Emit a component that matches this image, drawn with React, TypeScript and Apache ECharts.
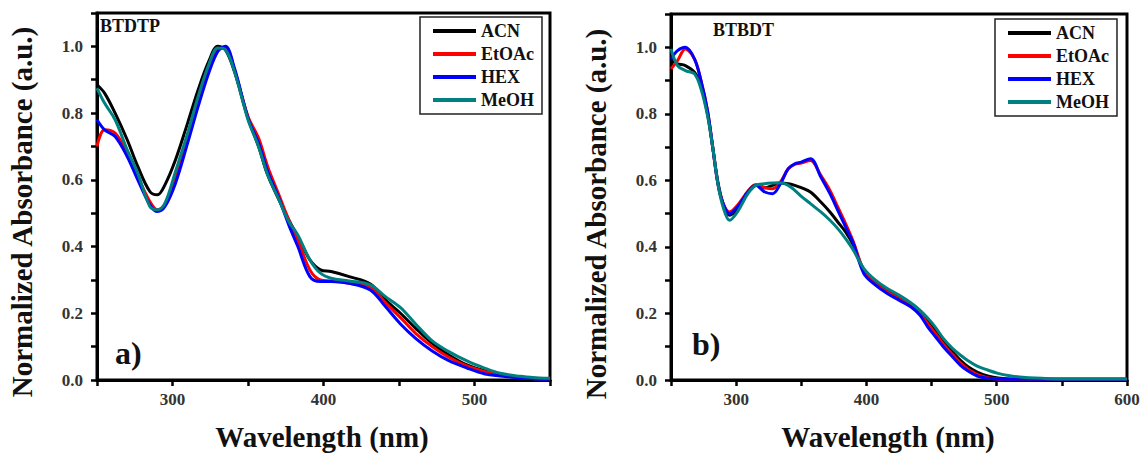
import React, { useEffect, useRef } from "react";
import * as echarts from "echarts";

// ---------- DATA ----------
const seriesNames = ["ACN", "EtOAc", "HEX", "MeOH"];
const seriesColors = ["#000000", "#ff0000", "#0000ff", "#008080"];

// Panel a) BTDTP
const wlA = [250, 255, 262, 270, 277, 285, 290, 295, 302, 310, 317, 324, 330, 335, 341, 350, 357, 363, 370, 377, 383, 391, 398, 405, 417, 431, 441, 451, 461, 472, 483, 495, 507, 517, 530, 540, 550];
const aACN = [0.885, 0.86, 0.8, 0.72, 0.64, 0.565, 0.555, 0.585, 0.66, 0.77, 0.87, 0.955, 1.0, 0.99, 0.925, 0.785, 0.7, 0.615, 0.545, 0.48, 0.43, 0.36, 0.33, 0.325, 0.31, 0.288, 0.24, 0.2, 0.155, 0.11, 0.075, 0.045, 0.027, 0.015, 0.008, 0.005, 0.004];
const aEtOAc = [0.7, 0.75, 0.74, 0.68, 0.61, 0.535, 0.51, 0.525, 0.605, 0.72, 0.83, 0.93, 0.99, 0.995, 0.93, 0.79, 0.725, 0.64, 0.56, 0.48, 0.42, 0.33, 0.3, 0.297, 0.29, 0.278, 0.232, 0.187, 0.14, 0.1, 0.068, 0.042, 0.025, 0.015, 0.007, 0.004, 0.003];
const aHEX = [0.78, 0.75, 0.73, 0.67, 0.6, 0.525, 0.505, 0.52, 0.59, 0.71, 0.82, 0.92, 0.985, 1.0, 0.935, 0.785, 0.71, 0.625, 0.55, 0.465, 0.4, 0.31, 0.295, 0.295, 0.29, 0.27, 0.22, 0.168, 0.125, 0.087, 0.058, 0.036, 0.018, 0.012, 0.006, 0.003, 0.002];
const aMeOH = [0.875, 0.83, 0.78, 0.69, 0.62, 0.52, 0.51, 0.53, 0.625, 0.74, 0.85, 0.945, 0.995, 0.99, 0.925, 0.78, 0.7, 0.615, 0.545, 0.475, 0.435, 0.36, 0.32, 0.305, 0.297, 0.285, 0.25, 0.217, 0.168, 0.117, 0.085, 0.057, 0.035, 0.02, 0.011, 0.007, 0.005];

// Panel b) BTBDT
const wlB = [250, 255, 261, 268, 273, 278, 282, 286, 290, 295, 301, 309, 315, 322, 328, 334, 340, 345, 350, 357, 365, 372, 378, 384, 390, 398, 407, 416, 425, 434, 441, 447, 453, 459, 466, 472, 478, 485, 493, 501, 510, 520, 540, 560, 580, 600];
const bACN = [0.96, 0.95, 0.945, 0.925, 0.885, 0.8, 0.7, 0.595, 0.53, 0.495, 0.515, 0.565, 0.585, 0.578, 0.585, 0.592, 0.59, 0.585, 0.578, 0.565, 0.535, 0.505, 0.475, 0.445, 0.405, 0.33, 0.295, 0.27, 0.25, 0.228, 0.205, 0.178, 0.148, 0.115, 0.085, 0.06, 0.04, 0.024, 0.012, 0.006, 0.003, 0.002, 0.002, 0.002, 0.002, 0.002];
const bEtOAc = [0.935, 0.96, 0.995, 0.965, 0.9, 0.81, 0.7, 0.59, 0.53, 0.505, 0.525, 0.567, 0.587, 0.578, 0.575, 0.595, 0.635, 0.648, 0.652, 0.66, 0.615, 0.57, 0.52, 0.47, 0.415, 0.33, 0.29, 0.265, 0.245, 0.225, 0.2, 0.17, 0.14, 0.108, 0.077, 0.052, 0.032, 0.017, 0.007, 0.003, 0.002, 0.002, 0.002, 0.002, 0.002, 0.002];
const bHEX = [0.965, 0.99, 1.0, 0.965, 0.9, 0.81, 0.7, 0.59, 0.53, 0.5, 0.52, 0.565, 0.585, 0.565, 0.56, 0.59, 0.635, 0.65, 0.655, 0.665, 0.61, 0.56, 0.51, 0.46, 0.41, 0.32, 0.285, 0.26, 0.24, 0.22, 0.195, 0.16, 0.13, 0.1, 0.07, 0.045, 0.027, 0.012, 0.005, 0.003, 0.002, 0.002, 0.002, 0.002, 0.002, 0.002];
const bMeOH = [0.995, 0.945, 0.93, 0.92, 0.875, 0.795, 0.7, 0.59, 0.52, 0.48, 0.505, 0.56, 0.585, 0.59, 0.592, 0.593, 0.585, 0.57, 0.552, 0.53, 0.505, 0.48, 0.455, 0.425, 0.39, 0.335, 0.3, 0.275, 0.255, 0.232, 0.21, 0.186, 0.158, 0.125, 0.095, 0.075, 0.058, 0.042, 0.03, 0.02, 0.013, 0.008, 0.004, 0.003, 0.003, 0.003];

const panelTitles = ["BTDTP", "BTBDT"];
const panelLabels = ["a)", "b)"];
const xAxisTitle = "Wavelength (nm)";
const yAxisTitle = "Normalized Absorbance (a.u.)";

// ---------- CHART ----------
const FONT = '"Liberation Serif", "Times New Roman", serif';

function pairs(xs: number[], ys: number[]) {
  return xs.map((x, i) => [x, ys[i]]);
}

export default function App() {
  const ref = useRef<HTMLDivElement>(null);

  useEffect(() => {
    document.body.style.margin = "0";
    if (!ref.current) return;
    const chart = echarts.init(ref.current, undefined, { renderer: "svg" });

    const panelA = [aACN, aEtOAc, aHEX, aMeOH];
    const panelB = [bACN, bEtOAc, bHEX, bMeOH];

    const series: any[] = [];
    panelA.forEach((vals, i) => {
      series.push({
        name: seriesNames[i],
        type: "line",
        xAxisIndex: 0,
        yAxisIndex: 0,
        data: pairs(wlA, vals),
        smooth: 0.35,
        showSymbol: false,
        lineStyle: { width: 3, color: seriesColors[i] },
        itemStyle: { color: seriesColors[i] },
      });
    });
    panelB.forEach((vals, i) => {
      series.push({
        name: seriesNames[i],
        type: "line",
        xAxisIndex: 1,
        yAxisIndex: 1,
        data: pairs(wlB, vals),
        smooth: 0.35,
        showSymbol: false,
        lineStyle: { width: 3, color: seriesColors[i] },
        itemStyle: { color: seriesColors[i] },
      });
    });

    const xAxisCommon = {
      type: "value",
      interval: 50,
      axisLine: { show: true, onZero: false, lineStyle: { color: "#000", width: 3 } },
      axisTick: { show: true, inside: false, length: 6, lineStyle: { color: "#000", width: 2.5 } },
      splitLine: { show: false },
      axisLabel: {
        margin: 11,
        fontFamily: FONT,
        fontWeight: "bold",
        fontSize: 17,
        color: "#333",
        formatter: (v: number) => (Math.abs(v % 100) < 1e-6 ? String(v) : ""),
      },
    };
    const yAxisCommon = {
      type: "value",
      min: 0,
      max: 1.1,
      interval: 0.1,
      axisLine: { show: true, onZero: false, lineStyle: { color: "#000", width: 3 } },
      axisTick: { show: true, inside: false, length: 6, lineStyle: { color: "#000", width: 2.5 } },
      splitLine: { show: false },
      axisLabel: {
        margin: 14,
        fontFamily: FONT,
        fontWeight: "bold",
        fontSize: 17,
        color: "#333",
        formatter: (v: number) => {
          const r = Math.round(v * 10);
          return r % 2 === 0 && r <= 10 ? (r / 10).toFixed(1) : "";
        },
      },
    };

    const legendCommon = {
      orient: "vertical",
      data: seriesNames,
      icon: "rect",
      itemWidth: 43,
      itemHeight: 4,
      itemGap: 5,
      padding: [5, 8, 5, 13],
      borderColor: "#222",
      borderWidth: 1.5,
      backgroundColor: "#fff",
      textStyle: { fontFamily: FONT, fontWeight: "bold", fontSize: 18, color: "#111" },
    };

    const txt = (text: string, x: number, y: number, size: number, align = "left", vAlign = "top", rotation = 0) => ({
      type: "text",
      x,
      y,
      rotation,
      z: 100,
      style: {
        text,
        font: `bold ${size}px ${FONT}`,
        fill: "#111",
        align,
        verticalAlign: vAlign,
      },
    });

    chart.setOption({
      animation: false,
      backgroundColor: "#fff",
      grid: [
        { left: 97, top: 13, width: 453, height: 367, show: true, borderColor: "#000", borderWidth: 3, backgroundColor: "transparent" },
        { left: 671, top: 14, width: 456, height: 366, show: true, borderColor: "#000", borderWidth: 3, backgroundColor: "transparent" },
      ],
      xAxis: [
        { ...xAxisCommon, gridIndex: 0, min: 250, max: 550 },
        { ...xAxisCommon, gridIndex: 1, min: 250, max: 600 },
      ],
      yAxis: [
        { ...yAxisCommon, gridIndex: 0 },
        { ...yAxisCommon, gridIndex: 1 },
      ],
      legend: [
        { ...legendCommon, left: 420, top: 17 },
        { ...legendCommon, left: 995, top: 19 },
      ],
      series,
      graphic: [
        txt(panelTitles[0], 100, 17, 18),
        txt(panelTitles[1], 713, 21, 18),
        txt(panelLabels[0], 115, 353, 32, "left", "middle"),
        txt(panelLabels[1], 692, 344, 32, "left", "middle"),
        txt(xAxisTitle, 322, 437, 29, "center", "middle"),
        txt(xAxisTitle, 888, 437, 29, "center", "middle"),
        txt(yAxisTitle, 22, 212, 29, "center", "middle", Math.PI / 2),
        txt(yAxisTitle, 596, 214, 29, "center", "middle", Math.PI / 2),
      ],
    });

    return () => chart.dispose();
  }, []);

  return <div ref={ref} style={{ width: 1144, height: 454 }} />;
}
